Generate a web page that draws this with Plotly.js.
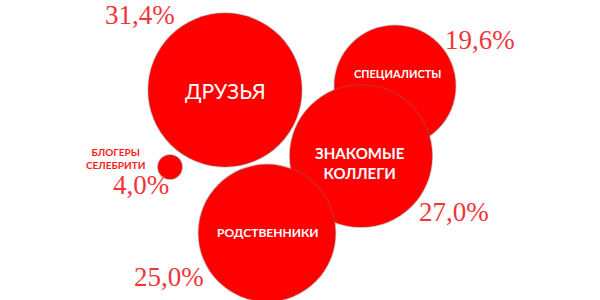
<!DOCTYPE html>
<html><head><meta charset="utf-8">
<script src="https://cdn.plot.ly/plotly-3.0.1.min.js"></script>
<style>html,body{margin:0;padding:0;background:#fff}#chart{width:600px;height:300px}</style>
</head><body><div id="chart"></div>
<script>
// Data
const categories = ['ДРУЗЬЯ', 'СПЕЦИАЛИСТЫ', 'БЛОГЕРЫ<br>СЕЛЕБРИТИ', 'ЗНАКОМЫЕ<br>КОЛЛЕГИ', 'РОДСТВЕННИКИ'];
const shares = [31.4, 19.6, 4.0, 27.0, 25.0];
const xValues = [22.5, 39.5, 17.0, 36.1, 26.7];
const yValues = [21.0, 21.4, 13.3, 14.4, 6.7];
const bubbleSize = [31.4, 19.6, 0.8, 27.0, 25.0];

// Styles (layout only)
const labelStyle = [
  {dx: 0, dy: 0, size: 21, color: '#ffffff', bold: false},
  {dx: 2, dy: 13, size: 11, color: '#ffffff', bold: true},
  {dx: -55, dy: 9, size: 10, color: '#ff1a1a', bold: true},
  {dx: -1, dy: -7, size: 15, color: '#ffffff', bold: true},
  {dx: 1, dy: 1, size: 12, color: '#ffffff', bold: true}
];
const pctShift = [[-85, 75], [85, 46], [-29, -18], [93, -56], [-98, -44]];

const trace = {
  type: 'scatter', mode: 'markers',
  x: xValues, y: yValues,
  marker: {
    size: bubbleSize, sizemode: 'area', sizeref: 0.00265,
    color: '#ff0000', opacity: 1,
    line: {color: 'rgba(120,120,120,0.3)', width: 1.5}
  },
  hoverinfo: 'skip', showlegend: false
};

const annotations = [];
categories.forEach((c, i) => {
  const s = labelStyle[i];
  annotations.push({
    x: xValues[i], y: yValues[i], xref: 'x', yref: 'y', showarrow: false,
    text: s.bold ? '<b>' + c + '</b>' : c,
    xshift: s.dx, yshift: s.dy, align: 'center',
    font: {family: 'Lato, "Noto Sans", sans-serif', size: s.size, color: s.color}
  });
  annotations.push({
    x: xValues[i], y: yValues[i], xref: 'x', yref: 'y', showarrow: false,
    text: shares[i].toFixed(1).replace('.', ',') + '%',
    xshift: pctShift[i][0], yshift: pctShift[i][1],
    font: {family: '"Liberation Serif", "DejaVu Serif", serif', size: 27, color: '#f0353a'}
  });
});

const layout = {
  width: 600, height: 300,
  margin: {l: 0, r: 0, t: 0, b: 0},
  paper_bgcolor: '#ffffff', plot_bgcolor: '#ffffff',
  xaxis: {range: [0, 60], visible: false, fixedrange: true},
  yaxis: {range: [0, 30], visible: false, fixedrange: true},
  annotations: annotations,
  showlegend: false
};

Plotly.newPlot('chart', [trace], layout, {staticPlot: true, displayModeBar: false});
</script></body></html>
